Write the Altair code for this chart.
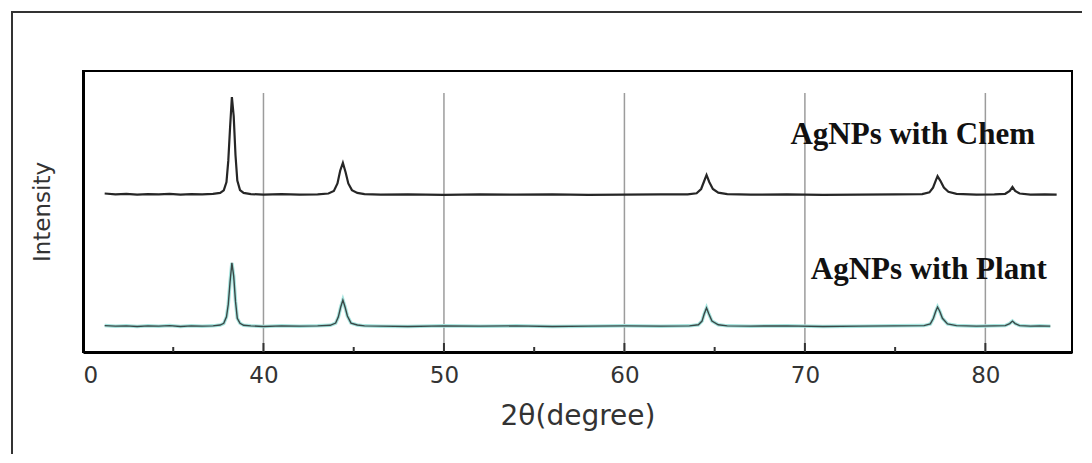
import altair as alt
import pandas as pd

# ---- data ----
chem_x = [31.2, 31.8, 32.4, 33.0, 33.6, 34.2, 34.8, 35.4, 36.0, 36.6, 37.2, 37.6, 37.8, 37.95,
          38.05, 38.15, 38.25, 38.35, 38.45, 38.55, 38.7, 38.9, 39.3, 40.0, 41.0, 42.0, 43.0,
          43.6, 43.9, 44.1, 44.25, 44.4, 44.55, 44.7, 44.9, 45.2, 45.6, 46.5, 48.0, 50.0, 52.0,
          54.0, 56.0, 58.0, 60.0, 62.0, 63.5, 64.0, 64.25, 64.4, 64.55, 64.7, 64.9, 65.2, 65.7,
          67.0, 69.0, 71.0, 73.0, 75.0, 76.5, 76.9, 77.1, 77.25, 77.35, 77.5, 77.7, 77.95, 78.4,
          79.5, 80.5, 81.1, 81.35, 81.5, 81.65, 81.9, 82.5, 83.3, 83.95]
chem_y = [56.4, 56.1, 56.3, 56.0, 56.2, 56.1, 56.3, 56.0, 56.2, 56.1, 56.3, 56.6, 57.5, 60.5,
          68.0, 80.0, 90.7, 84.0, 70.0, 61.0, 57.6, 56.6, 56.2, 56.0, 56.2, 56.0, 56.1,
          56.4, 57.3, 60.0, 64.5, 67.3, 64.0, 60.0, 57.6, 56.6, 56.2, 56.0, 56.1, 55.9, 56.1,
          56.0, 56.1, 55.9, 56.0, 56.1, 56.1, 56.5, 58.0, 60.5, 63.0, 60.5, 58.0, 56.7, 56.2,
          56.0, 56.1, 55.9, 56.0, 56.1, 56.2, 56.8, 58.5, 61.0, 62.6, 61.0, 58.5, 57.0, 56.3,
          56.0, 56.1, 56.3, 57.3, 58.7, 57.3, 56.4, 56.0, 56.1, 56.0]

plant_x = [31.2, 31.8, 32.4, 33.0, 33.6, 34.2, 34.8, 35.4, 36.0, 36.6, 37.2, 37.6, 37.8, 37.95,
           38.05, 38.15, 38.25, 38.35, 38.45, 38.55, 38.7, 38.9, 39.3, 40.0, 41.0, 42.0, 43.0,
           43.7, 44.0, 44.15, 44.28, 44.4, 44.52, 44.65, 44.85, 45.2, 45.6, 46.5, 48.0, 50.0, 52.0,
           54.0, 56.0, 58.0, 60.0, 62.0, 63.6, 64.1, 64.3, 64.42, 64.55, 64.68, 64.85, 65.2, 65.7,
           67.0, 69.0, 71.0, 73.0, 75.0, 76.6, 76.95, 77.12, 77.25, 77.35, 77.47, 77.62, 77.9, 78.4,
           79.5, 80.5, 81.1, 81.35, 81.5, 81.65, 81.9, 82.5, 83.0, 83.6]
plant_y = [9.4, 9.2, 9.3, 9.1, 9.3, 9.2, 9.4, 9.1, 9.3, 9.2, 9.3, 9.6, 10.2, 12.5,
           17.0, 25.0, 31.7, 27.0, 18.0, 12.0, 10.2, 9.5, 9.3, 9.1, 9.3, 9.2, 9.3,
           9.5, 10.3, 12.5, 16.0, 18.5, 16.0, 12.8, 10.3, 9.6, 9.3, 9.2, 9.1, 9.3, 9.2,
           9.3, 9.1, 9.2, 9.3, 9.2, 9.3, 9.7, 11.0, 13.5, 15.7, 13.5, 11.0, 9.7, 9.3,
           9.2, 9.3, 9.1, 9.2, 9.3, 9.4, 10.0, 12.0, 14.5, 16.0, 14.5, 12.0, 10.0, 9.4,
           9.2, 9.3, 9.4, 10.1, 11.0, 10.1, 9.4, 9.2, 9.3, 9.2]

x_ticks = [30, 40, 50, 60, 70, 80]
major_grid = [40, 50, 60, 70, 80]
minor_ticks = [35, 45, 55, 65, 75]
label_text = ["AgNPs with Chem", "AgNPs with Plant"]
label_x = [82.75, 83.4]
label_y = [74.0, 26.0]

X_DOMAIN = [30, 84.8]
Y_DOMAIN = [0, 100]

chem = pd.DataFrame({"x": chem_x, "y": chem_y})
plant = pd.DataFrame({"x": plant_x, "y": plant_y})
grid_df = pd.DataFrame({"x": major_grid})
minor_df = pd.DataFrame({"x": minor_ticks})
labels_df = pd.DataFrame({"t": label_text, "x": label_x, "y": label_y})

xscale = alt.Scale(domain=X_DOMAIN, nice=False, zero=False)
yscale = alt.Scale(domain=Y_DOMAIN, nice=False, zero=False)

x_axis = alt.Axis(
    values=x_ticks,
    labelExpr="datum.value == 30 ? '0' : datum.label",
    labelAlign={"condition": {"test": "datum.value == 30", "value": "left"}, "value": "center"},
    ticks=False, grid=False,
    domainColor="black", domainWidth=3,
    labelFont="DejaVu Sans", labelFontSize=23, labelColor="#333333", labelPadding=12,
    title="2θ(degree)", titleFont="DejaVu Sans", titleFontSize=28,
    titleFontWeight="normal", titleColor="#333333", titlePadding=15,
)
y_axis = alt.Axis(
    labels=False, ticks=False, grid=False,
    domainColor="black", domainWidth=3,
    title="Intensity", titleFont="DejaVu Sans", titleFontSize=23,
    titleFontWeight="normal", titleColor="#333333", titlePadding=29,
)

base_x = alt.X("x:Q", scale=xscale, axis=x_axis)
base_y = alt.Y("y:Q", scale=yscale, axis=y_axis)

grid = alt.Chart(grid_df).mark_rule(color="#9c9c9c", strokeWidth=1.5).encode(
    x=alt.X("x:Q", scale=xscale, axis=x_axis),
    y=alt.value(22), y2=alt.value(281),
)
major = alt.Chart(grid_df).mark_rule(color="#333333", strokeWidth=2).encode(
    x=alt.X("x:Q", scale=xscale),
    y=alt.value(272), y2=alt.value(281),
)
minor = alt.Chart(minor_df).mark_rule(color="#333333", strokeWidth=2).encode(
    x=alt.X("x:Q", scale=xscale),
    y=alt.value(276), y2=alt.value(281),
)

plant_halo = alt.Chart(plant).mark_line(color="#a6e4de", strokeWidth=3.5).encode(x=base_x, y=base_y)
plant_line = alt.Chart(plant).mark_line(color="#3a4746", strokeWidth=1.4).encode(x=base_x, y=base_y)
chem_line = alt.Chart(chem).mark_line(color="#262626", strokeWidth=2.2).encode(x=base_x, y=base_y)

texts = alt.Chart(labels_df).mark_text(
    font="Liberation Serif", fontWeight="bold", fontSize=31, align="right",
    baseline="alphabetic", color="#111111",
).encode(x=alt.X("x:Q", scale=xscale), y=alt.Y("y:Q", scale=yscale), text="t:N")

frame = alt.Chart(grid_df).mark_rect(filled=False, stroke="#333333", strokeWidth=2).encode(
    x=alt.value(-71), x2=alt.value(1200), y=alt.value(-59), y2=alt.value(600),
)

chart = alt.layer(
    grid, major, minor, plant_halo, plant_line, chem_line, texts, frame
).properties(
    width=989, height=281,
    autosize=alt.AutoSizeParams(type="none"),
    padding={"left": 75, "top": 63, "right": 10, "bottom": 102},
    background="white",
).configure_view(stroke="black", strokeWidth=2)

chart.save("out.html", embed_options={"renderer": "svg", "actions": False})
